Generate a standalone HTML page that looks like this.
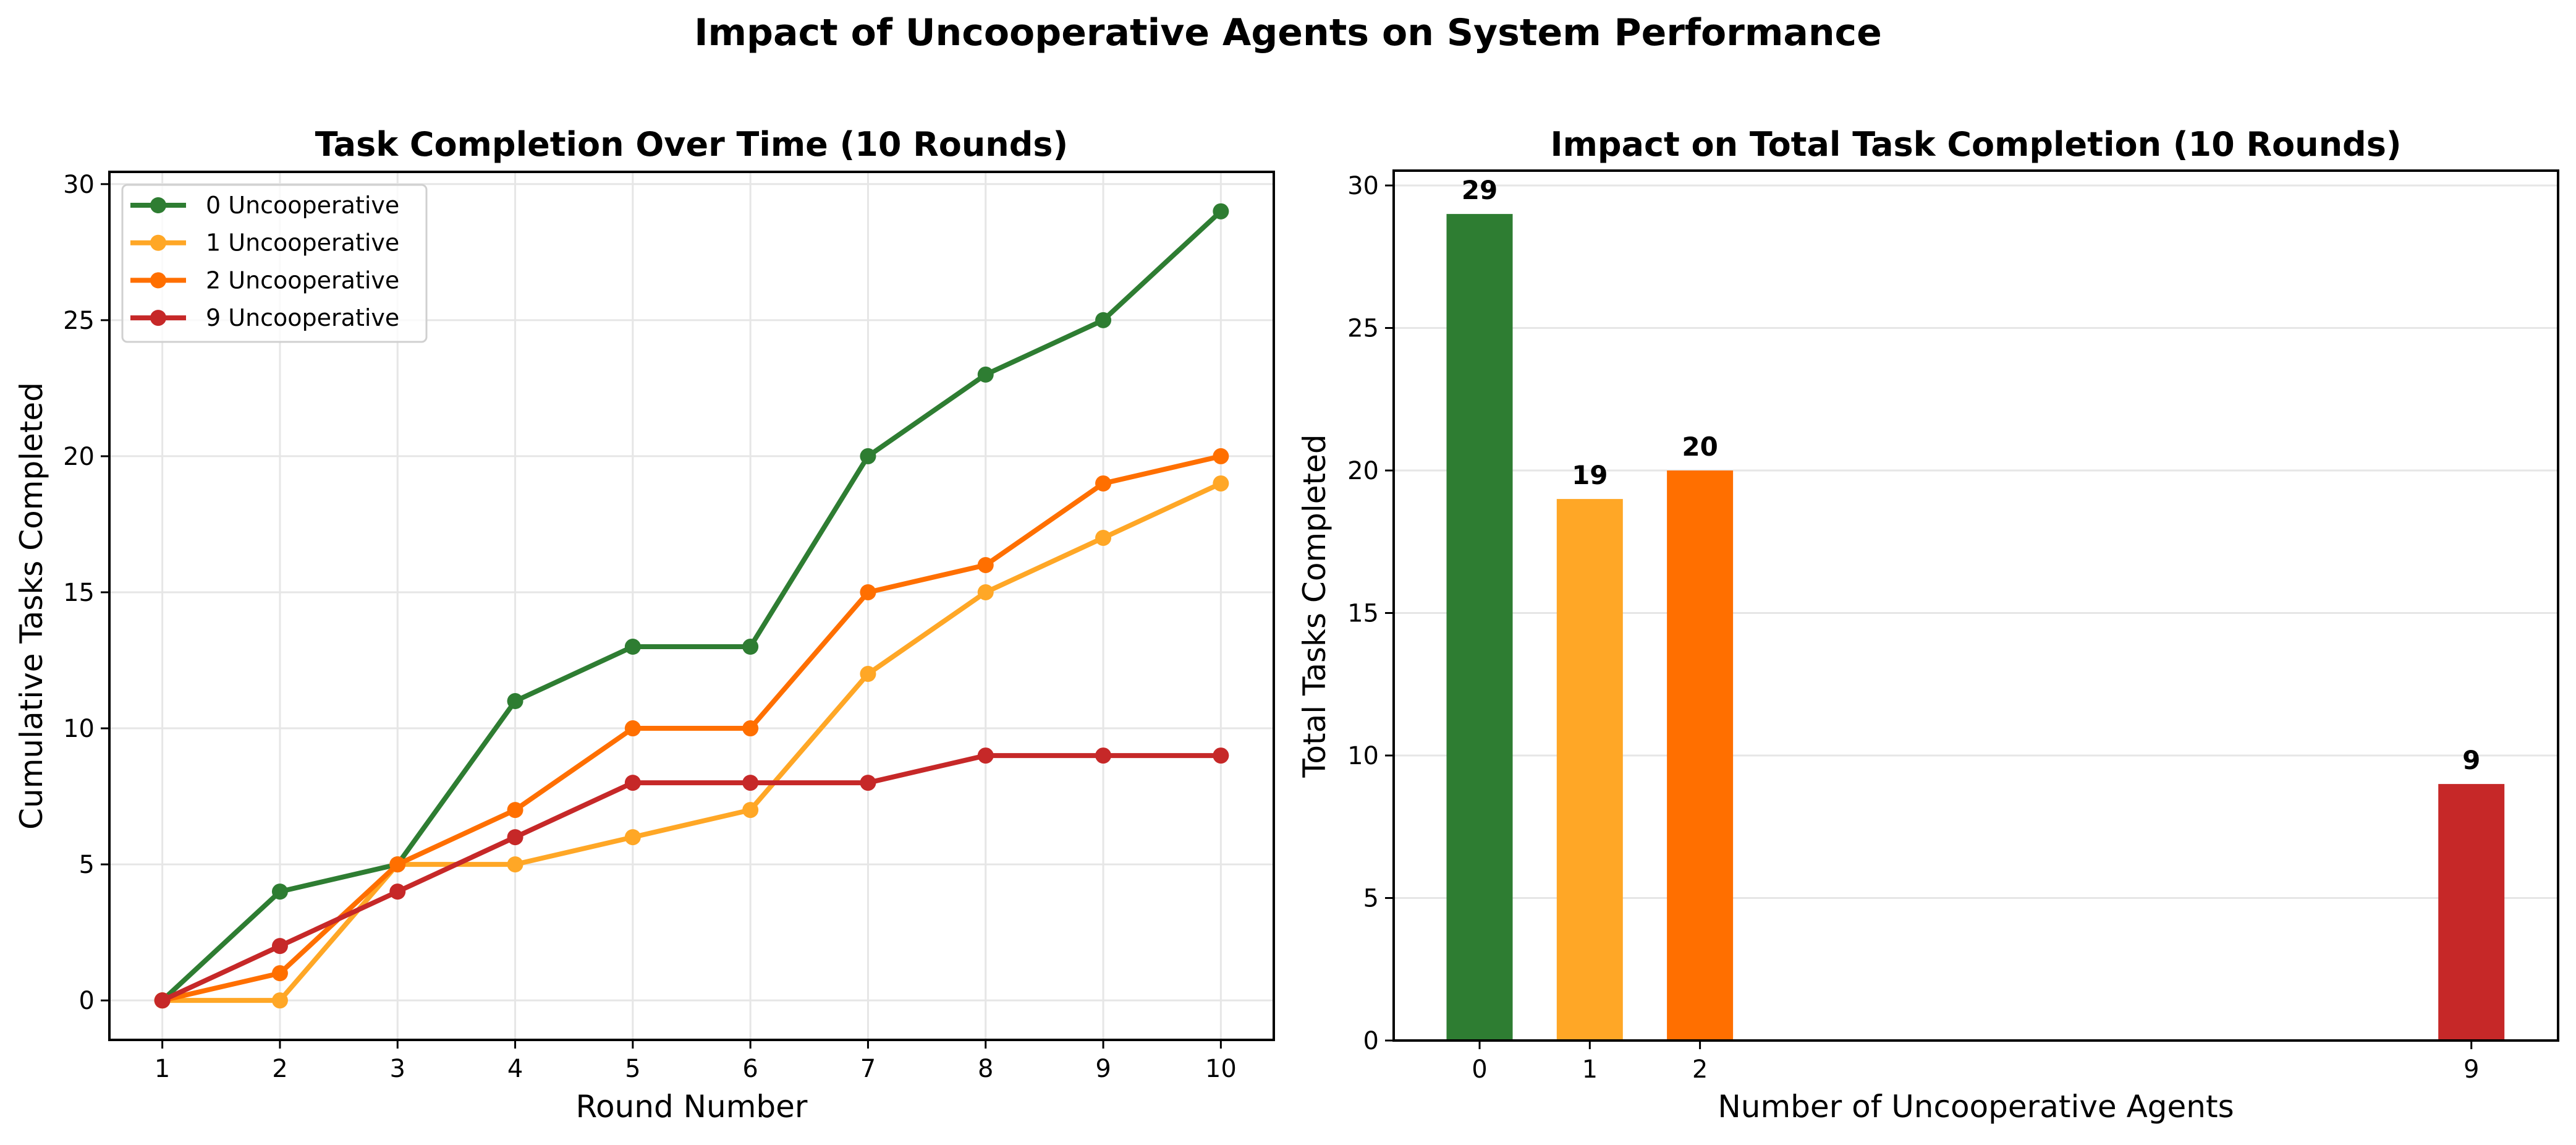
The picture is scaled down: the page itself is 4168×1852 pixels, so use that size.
<!DOCTYPE html>
<html><head><meta charset="utf-8"><style>
html,body{margin:0;padding:0;background:#fff;}
svg text{font-family:"DejaVu Sans","Liberation Sans",sans-serif;}
</style></head><body>
<svg id="c" width="4168" height="1847" xmlns="http://www.w3.org/2000/svg">
<rect width="4168" height="1847" fill="#fff"/>
</svg>
<script>
const rounds=[1,2,3,4,5,6,7,8,9,10];
const s0=[0,4,5,11,13,13,20,23,25,29];
const s1=[0,0,5,5,6,7,12,15,17,19];
const s2=[0,1,5,7,10,10,15,16,19,20];
const s9=[0,2,4,6,8,8,8,9,9,9];
const seriesNames=["0 Uncooperative","1 Uncooperative","2 Uncooperative","9 Uncooperative"];
const barCats=[0,1,2,9];
const barVals=[29,19,20,9];
const yTicks=[0,5,10,15,20,25,30];
const colors=["#2e7d32","#ffa726","#ff6f00","#c62828"];

const svg=document.getElementById('c');
const NS="http://www.w3.org/2000/svg";
function el(t,a,txt){const e=document.createElementNS(NS,t);for(const k in a)e.setAttribute(k,a[k]);if(txt!==undefined)e.textContent=txt;svg.appendChild(e);return e;}

const L={x0:177,x1:2061,y0:278,y1:1682};
const lx=v=>L.x0+(v-0.55)/9.9*(L.x1-L.x0);
const ly=v=>L.y1-(v+1.45)/31.9*(L.y1-L.y0);
const R={x0:2255,x1:4139,y0:276,y1:1683};
const rx=v=>2394+v*178.3;
const ry=v=>R.y1-v*46.1;

let e;
e=el('text',{x:2084,y:73,'font-size':60,'font-weight':'bold','text-anchor':'middle'},'Impact of Uncooperative Agents on System Performance');


rounds.forEach(r=>{e=el('line',{x1:lx(r),x2:lx(r),y1:L.y0,y2:L.y1,stroke:'#e6e6e6','stroke-width':3});
});
yTicks.forEach(t=>{e=el('line',{x1:L.x0,x2:L.x1,y1:ly(t),y2:ly(t),stroke:'#e6e6e6','stroke-width':3});
});

const all=[s0,s1,s2,s9];
all.forEach((s,i)=>{
  const pts=s.map((v,j)=>lx(rounds[j])+','+ly(v)).join(' ');
  e=el('polyline',{points:pts,fill:'none',stroke:colors[i],'stroke-width':8,'stroke-linejoin':'round'});
  
  s.forEach((v,j)=>{e=el('circle',{cx:lx(rounds[j]),cy:ly(v),r:13,fill:colors[i]});
  });
});

e=el('rect',{x:L.x0,y:L.y0,width:L.x1-L.x0,height:L.y1-L.y0,fill:'none',stroke:'#000','stroke-width':4});

rounds.forEach(r=>{el('line',{x1:lx(r),x2:lx(r),y1:L.y1,y2:L.y1+14,stroke:'#000','stroke-width':3});
e=el('text',{x:lx(r),y:L.y1+60,'font-size':40,'text-anchor':'middle'},r);
});
yTicks.forEach(t=>{el('line',{x1:L.x0-14,x2:L.x0,y1:ly(t),y2:ly(t),stroke:'#000','stroke-width':3});
e=el('text',{x:L.x0-24,y:ly(t)+14,'font-size':40,'text-anchor':'end'},t);
});
e=el('text',{x:(L.x0+L.x1)/2,y:252,'font-size':54,'font-weight':'bold','text-anchor':'middle'},'Task Completion Over Time (10 Rounds)');

e=el('text',{x:(L.x0+L.x1)/2,y:1807,'font-size':50,'text-anchor':'middle'},'Round Number');

e=el('text',{x:0,y:0,'font-size':50,'text-anchor':'middle',transform:'translate(68,980) rotate(-90)'},'Cumulative Tasks Completed');


e=el('rect',{x:198,y:299,width:492,height:254,rx:8,fill:'#fff','fill-opacity':0.8,stroke:'#d0d0d0','stroke-width':3});

seriesNames.forEach((n,i)=>{const y=332+i*60.7;
  el('line',{x1:211,x2:301,y1:y,y2:y,stroke:colors[i],'stroke-width':8});
  el('circle',{cx:256,cy:y,r:13,fill:colors[i]});
  e=el('text',{x:333,y:y+13,'font-size':38},n);
  });

yTicks.forEach(t=>{e=el('line',{x1:R.x0,x2:R.x1,y1:ry(t),y2:ry(t),stroke:'#e6e6e6','stroke-width':3});
});
barCats.forEach((c,i)=>{
  e=el('rect',{x:rx(c)-53.5,y:ry(barVals[i]),width:107,height:ry(0)-ry(barVals[i]),fill:colors[i]});
  
  e=el('text',{x:rx(c),y:ry(barVals[i])-24,'font-size':42,'font-weight':'bold','text-anchor':'middle'},barVals[i]);
  
});
e=el('rect',{x:R.x0,y:R.y0,width:R.x1-R.x0,height:R.y1-R.y0,fill:'none',stroke:'#000','stroke-width':4});

barCats.forEach(c=>{el('line',{x1:rx(c),x2:rx(c),y1:R.y1,y2:R.y1+14,stroke:'#000','stroke-width':3});
e=el('text',{x:rx(c),y:R.y1+60,'font-size':40,'text-anchor':'middle'},c);
});
yTicks.forEach(t=>{el('line',{x1:R.x0-14,x2:R.x0,y1:ry(t),y2:ry(t),stroke:'#000','stroke-width':3});
e=el('text',{x:R.x0-24,y:ry(t)+14,'font-size':40,'text-anchor':'end'},t);
});
e=el('text',{x:(R.x0+R.x1)/2,y:252,'font-size':54,'font-weight':'bold','text-anchor':'middle'},'Impact on Total Task Completion (10 Rounds)');

e=el('text',{x:(R.x0+R.x1)/2,y:1807,'font-size':50,'text-anchor':'middle'},'Number of Uncooperative Agents');

e=el('text',{x:0,y:0,'font-size':50,'text-anchor':'middle',transform:'translate(2144,980) rotate(-90)'},'Total Tasks Completed');

</script>
</body></html>
